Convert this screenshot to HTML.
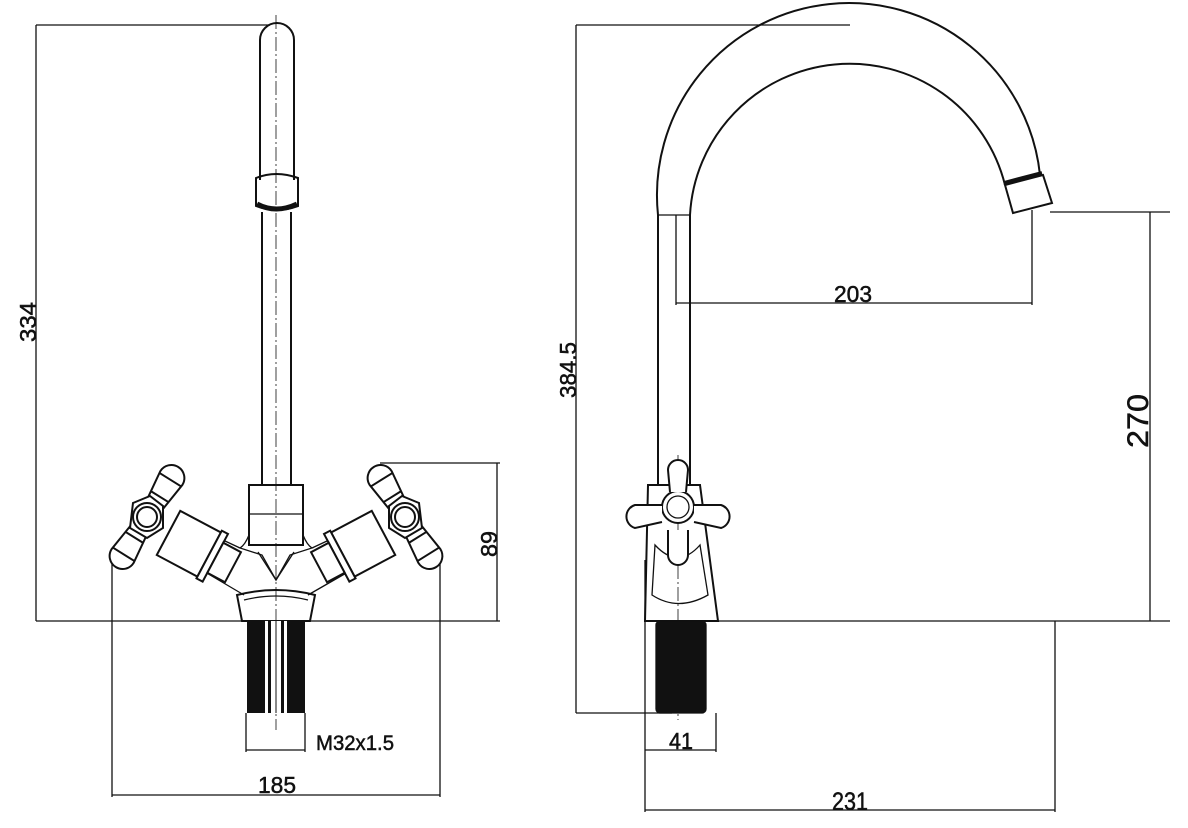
<!DOCTYPE html>
<html><head><meta charset="utf-8"><style>
html,body{margin:0;padding:0;background:#fff;}
svg{display:block}
text{font-family:"Liberation Sans",sans-serif;fill:#111;stroke:#111;stroke-width:0.5}
</style></head><body>
<svg width="1188" height="828" viewBox="0 0 1188 828" xmlns="http://www.w3.org/2000/svg">
<defs>
<path id="arm" d="M13 -9 L46 -13 A13 13 0 0 1 46 13 L13 9 Z M44 -13 L44 13 M24 -10 L24 10"/>
</defs>
<g fill="none" stroke="#111" stroke-width="1.3">
<line x1="36" y1="25" x2="270" y2="25"/>
<line x1="36" y1="25" x2="36" y2="621"/>
<line x1="36" y1="621" x2="500" y2="621"/>
<line x1="380" y1="463" x2="500" y2="463"/>
<line x1="497" y1="463" x2="497" y2="621"/>
<line x1="112" y1="560" x2="112" y2="797"/>
<line x1="440" y1="560" x2="440" y2="797"/>
<line x1="112" y1="795" x2="440" y2="795"/>
<line x1="246" y1="713" x2="246" y2="752"/>
<line x1="305" y1="713" x2="305" y2="752"/>
<line x1="246" y1="750" x2="305" y2="750"/>
<path d="M260 180 V40 A17 17 0 0 1 294 40 V180" stroke-width="2"/>
<path d="M256 178 Q276 170 298 178 V206 Q276 214 256 206 Z" stroke-width="2"/>
<path d="M257 204 Q276 214 297 204" stroke-width="5"/>
<line x1="262" y1="212" x2="262" y2="485" stroke-width="2"/>
<line x1="291" y1="212" x2="291" y2="485" stroke-width="2"/>
<line x1="276" y1="15" x2="276" y2="730" stroke-width="0.8" stroke-dasharray="14 3 2 3"/>
<rect x="249" y="485" width="54" height="60" stroke-width="2"/>
<line x1="249" y1="514" x2="303" y2="514"/>
<path d="M249 535 Q245 545 240 548 L262 555 L276 580 L290 555 L312 548 Q307 545 303 535"/>
<path d="M276 580 L258 552 M276 580 L294 552"/>
<path d="M237 595 Q276 585 315 595 L310 621 H242 Z" stroke-width="2"/>
<path d="M244 600 Q276 592 308 600"/>
<path d="M240 548 L180 520 M244 595 L205 572"/>
<path d="M312 548 L372 520 M308 595 L348 572"/>
<g transform="translate(195 547) rotate(28)" stroke-width="2">
<rect x="-30" y="-25" width="46" height="50" fill="#fff"/>
<rect x="16" y="-27" width="7" height="54" fill="#fff"/>
<rect x="23" y="-17" width="20" height="34" fill="#fff"/>
</g>
<g transform="translate(357 547) rotate(-28)" stroke-width="2">
<rect x="-16" y="-25" width="46" height="50" fill="#fff"/>
<rect x="-23" y="-27" width="7" height="54" fill="#fff"/>
<rect x="-43" y="-17" width="20" height="34" fill="#fff"/>
</g>
<g stroke-width="2" fill="#fff">
<use href="#arm" transform="translate(147 517) rotate(-58)"/>
<use href="#arm" transform="translate(147 517) rotate(122)"/>
<path d="M133 503 L150 496 L163 506 L163 528 L147 538 L130 528 Z"/>
<circle cx="147" cy="517" r="14"/><circle cx="147" cy="517" r="10"/>
<use href="#arm" transform="translate(405 517) rotate(-122)"/>
<use href="#arm" transform="translate(405 517) rotate(58)"/>
<path d="M419 503 L402 496 L389 506 L389 528 L405 538 L422 528 Z"/>
<circle cx="405" cy="517" r="14"/><circle cx="405" cy="517" r="10"/>
</g>
<line x1="576" y1="25" x2="850" y2="25"/>
<line x1="576" y1="25" x2="576" y2="713"/>
<line x1="576" y1="713" x2="672" y2="713"/>
<line x1="676" y1="215" x2="676" y2="305"/>
<line x1="1032" y1="210" x2="1032" y2="305"/>
<line x1="676" y1="303" x2="1032" y2="303"/>
<line x1="1050" y1="212" x2="1170" y2="212"/>
<line x1="1150" y1="212" x2="1150" y2="621"/>
<line x1="715" y1="621" x2="1170" y2="621"/>
<line x1="645" y1="560" x2="645" y2="812"/>
<line x1="716" y1="713" x2="716" y2="752"/>
<line x1="645" y1="750" x2="716" y2="750"/>
<line x1="1055" y1="621" x2="1055" y2="812"/>
<line x1="645" y1="810" x2="1055" y2="810"/>
<path d="M658 485 V215 A192 192 0 0 1 1040 175" stroke-width="2"/>
<path d="M690 485 V215 A160 160 0 0 1 1005 185" stroke-width="2"/>
<line x1="658" y1="215" x2="690" y2="215"/>
<path d="M1005 185 L1043 175 L1052 203 L1013 213 Z" stroke-width="2"/>
<path d="M1004 183 L1042 173" stroke-width="4"/>
<line x1="678" y1="455" x2="678" y2="720" stroke-width="0.8" stroke-dasharray="14 3 2 3"/>
<path d="M648 485 H700 L718 621 H645 Z" stroke-width="2"/>
<path d="M655 545 Q678 570 700 545 L708 595 Q678 612 652 595 Z"/>
<rect x="656" y="621" width="50" height="92" rx="4" fill="#111"/>
<circle cx="678" cy="507" r="16" fill="#fff" stroke-width="2"/><circle cx="678" cy="507" r="11"/>
<path d="M670 492 L668 470 A10 10 0 0 1 688 470 L686 492" fill="#fff" stroke-width="2"/>
<path d="M662 505 L635 505 A12 12 0 0 0 635 528 L662 522" fill="#fff" stroke-width="2"/>
<path d="M694 505 L721 505 A12 12 0 0 1 721 528 L694 522" fill="#fff" stroke-width="2"/>
<path d="M668 530 L668 555 A10 10 0 0 0 688 555 L688 530" fill="#fff" stroke-width="2"/>
</g>
<rect x="247" y="621" width="58" height="92" fill="#111"/>
<rect x="265" y="621" width="3" height="92" fill="#fff"/>
<rect x="271" y="621" width="10" height="92" fill="#fff"/>
<rect x="284" y="621" width="3" height="92" fill="#fff"/>
<line x1="276" y1="621" x2="276" y2="713" stroke="#111"/>
<text x="0" y="0" font-size="23" transform="translate(36 342) rotate(-90)" textLength="40" lengthAdjust="spacingAndGlyphs">334</text>
<text x="0" y="0" font-size="23" transform="translate(497 557) rotate(-90)" textLength="26" lengthAdjust="spacingAndGlyphs">89</text>
<text x="316" y="750" font-size="21" textLength="78" lengthAdjust="spacingAndGlyphs">M32x1.5</text>
<text x="258" y="793" font-size="23" textLength="38" lengthAdjust="spacingAndGlyphs">185</text>
<text x="0" y="0" font-size="23" transform="translate(576 398) rotate(-90)" textLength="56" lengthAdjust="spacingAndGlyphs">384.5</text>
<text x="834" y="302" font-size="23" textLength="38" lengthAdjust="spacingAndGlyphs">203</text>
<text x="0" y="0" font-size="30" transform="translate(1148 448) rotate(-90)" textLength="54" lengthAdjust="spacingAndGlyphs">270</text>
<text x="669" y="749" font-size="23" textLength="24" lengthAdjust="spacingAndGlyphs">41</text>
<text x="832" y="810" font-size="25" textLength="36" lengthAdjust="spacingAndGlyphs">231</text>
</svg>
</body></html>
